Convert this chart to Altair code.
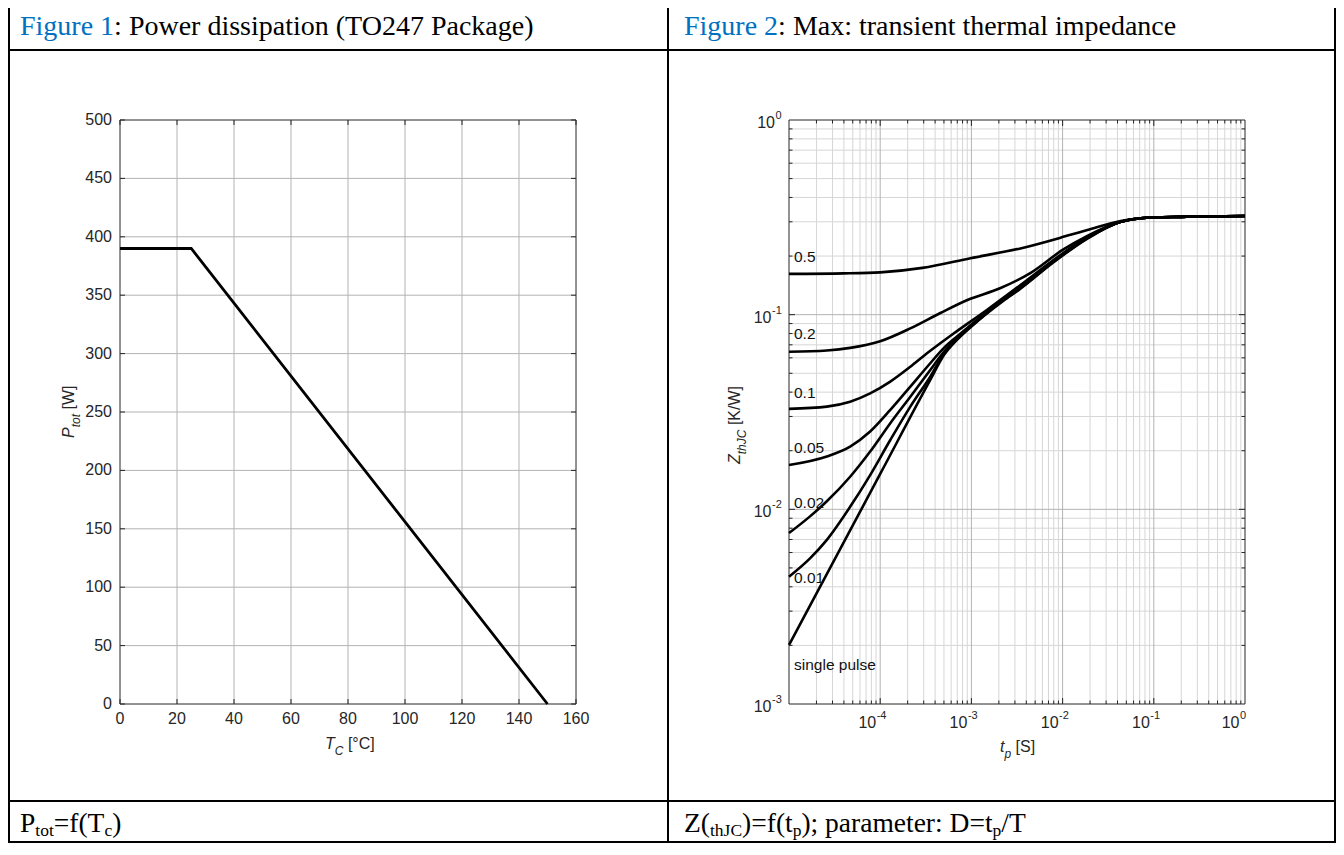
import altair as alt
import pandas as pd

# ---------------- Figure 1 data ----------------
TC = [0, 25, 150]
PTOT = [390, 390, 0]
X1_TICKS = [0, 20, 40, 60, 80, 100, 120, 140, 160]
Y1_TICKS = [0, 50, 100, 150, 200, 250, 300, 350, 400, 450, 500]

# ---------------- Figure 2 data ----------------
T_SP = [1e-5, 1e-4, 3.54e-4, 5e-4, 7e-4, 1e-3, 2.25e-3, 3.45e-3, 7.96e-3, 1.87e-2, 4.34e-2, 7.2e-2, 2e-1, 1.0]
Z_SP = [0.00201, 0.0152, 0.0462, 0.0620, 0.0745, 0.0870, 0.118, 0.136, 0.186, 0.246, 0.300, 0.313, 0.318, 0.321]
T_D001 = [1e-5, 1.7e-5, 2.6e-5, 4.68e-5, 7.76e-5, 1.29e-4, 2.14e-4, 3.54e-4, 5e-4, 7e-4, 1e-3,
          2.25e-3, 3.45e-3, 7.96e-3, 1.87e-2, 4.34e-2, 7.2e-2, 2e-1, 1.0]
Z_D001 = [0.00451, 0.0056, 0.00697, 0.0103, 0.0150, 0.0227, 0.0337, 0.0480, 0.0630, 0.0752, 0.0875,
          0.119, 0.137, 0.187, 0.247, 0.300, 0.313, 0.318, 0.321]
T_D002 = [1e-5, 1.7e-5, 2.6e-5, 4.68e-5, 7.76e-5, 1.29e-4, 2.14e-4, 3.54e-4, 5e-4, 7e-4, 1e-3,
          2.25e-3, 3.45e-3, 7.96e-3, 1.87e-2, 4.34e-2, 7.2e-2, 2e-1, 1.0]
Z_D002 = [0.00755, 0.0092, 0.0110, 0.0147, 0.0198, 0.0277, 0.0379, 0.0520, 0.0645, 0.0760, 0.0880,
          0.120, 0.138, 0.188, 0.248, 0.300, 0.313, 0.318, 0.321]
T_D005 = [1e-5, 2.6e-5, 4.68e-5, 7.76e-5, 1.29e-4, 2.14e-4, 3.54e-4, 5e-4, 7e-4, 1e-3,
          2.25e-3, 3.45e-3, 7.96e-3, 1.87e-2, 4.34e-2, 7.2e-2, 2e-1, 1.0]
Z_D005 = [0.0169, 0.0187, 0.0210, 0.0251, 0.0324, 0.0427, 0.0563, 0.0675, 0.0775, 0.0890,
          0.121, 0.139, 0.189, 0.249, 0.300, 0.313, 0.318, 0.321]
T_D01 = [1e-5, 2.6e-5, 4.68e-5, 7.76e-5, 1.29e-4, 2.14e-4, 3.26e-4, 6.38e-4, 1.49e-3,
         3.45e-3, 7.96e-3, 1.87e-2, 4.34e-2, 7.2e-2, 2e-1, 1.0]
Z_D01 = [0.0328, 0.0337, 0.0357, 0.0394, 0.0453, 0.0540, 0.0633, 0.0800, 0.106,
         0.142, 0.191, 0.250, 0.300, 0.313, 0.318, 0.321]
T_D02 = [1e-5, 2.6e-5, 4.68e-5, 1e-4, 2.14e-4, 4.57e-4, 9.04e-4, 2.09e-3, 4.47e-3, 1e-2,
         1.87e-2, 4.34e-2, 7.2e-2, 2e-1, 1.0]
Z_D02 = [0.0645, 0.0655, 0.0675, 0.0730, 0.0850, 0.102, 0.119, 0.137, 0.164, 0.215,
         0.254, 0.300, 0.313, 0.318, 0.321]
T_D05 = [1e-5, 4e-5, 1e-4, 2.9e-4, 9.75e-4, 3.45e-3, 1.22e-2, 1.87e-2, 4.34e-2, 7.2e-2, 2e-1, 1.0]
Z_D05 = [0.162, 0.163, 0.165, 0.174, 0.195, 0.219, 0.257, 0.272, 0.303, 0.313, 0.318, 0.321]

CURVE_LABELS = ["0.5", "0.2", "0.1", "0.05", "0.02", "0.01", "single pulse"]
CURVE_LABEL_Z = [0.1986, 0.0793, 0.0395, 0.0206, 0.01074, 0.00442, 0.00159]

X2_MAJOR = [1e-4, 1e-3, 1e-2, 1e-1]
X2_MINOR = [k * 10.0 ** e for e in range(-5, 0) for k in range(2, 10)]
Y2_MAJOR = [1e-2, 1e-1]
Y2_MINOR = [k * 10.0 ** e for e in range(-3, 0) for k in range(2, 10)]
X2_LABEL_V = [1e-4, 1e-3, 1e-2, 1e-1]
X2_LABEL_E = ["-4", "-3", "-2", "-1"]
Y2_LABEL_V = [1e-3, 1e-2, 1e-1]
Y2_LABEL_E = ["-3", "-2", "-1"]

# ---------------- layout helpers ----------------
OFF = 8
W, H = 1328, 835


def px(v):
    return v - OFF


SANS = "Liberation Sans"
SERIF = "Liberation Serif"
AXC = "#262626"
BLUE = "#0070C0"
GRID = "#b3b3b3"
GRID_MINOR = "#d6d6d6"

TIMES = {'F': 556, 'i': 278, 'g': 500, 'u': 500, 'r': 333, 'e': 444, ' ': 250, '1': 500, '2': 500,
         ':': 278, 'P': 556, 'o': 500, 'w': 722, 'd': 500, 's': 389, 'p': 500, 'a': 444, 't': 278,
         'n': 500, '(': 333, 'T': 611, 'O': 722, '4': 500, '7': 500, 'c': 444, 'k': 500, ')': 333,
         'M': 889, 'x': 500, 'h': 500, 'm': 778, 'l': 278, '=': 564, 'f': 333, 'Z': 611, 'J': 389,
         'C': 667, ';': 278, 'D': 722, '/': 278}
ARIAL = {'T': 611, 'C': 722, '[': 278, ']': 278, '°': 400, 'P': 667, 't': 278, 'o': 556,
         'W': 944, 'Z': 611, 'h': 556, 'J': 500, 'K': 667, '/': 278, 'p': 556, 'S': 667, ' ': 278}


def tw(s, size, table):
    return sum(table.get(ch, 556) for ch in s) * size / 1000.0


ONE = alt.Data(values=[{"a": 1}])


def piece(x, y, s, size, font, color, style, angle):
    return alt.Chart(ONE).mark_text(
        align="left", baseline="alphabetic", fontSize=size, font=font,
        color=color, fontStyle=style, angle=angle
    ).encode(x=alt.value(x), y=alt.value(y), text=alt.value(s))


def hcompose(x0, y0, pieces, font, table):
    out, x = [], x0
    for s, size, style, color, shift, gap in pieces:
        x += gap
        out.append(piece(x, y0 + shift, s, size, font, color, style, 0))
        x += tw(s, size, table)
    return out


def vcompose(xb, y0, pieces, font, table):
    out, y = [], y0
    for s, size, style, color, shift, gap in pieces:
        y -= gap
        out.append(piece(xb + shift, y, s, size, font, color, style, 270))
        y -= tw(s, size, table)
    return out


def hline(x1, x2, y, width=2, color="black"):
    return alt.Chart(ONE).mark_rule(color=color, strokeWidth=width).encode(
        x=alt.value(x1), x2=alt.value(x2), y=alt.value(y), y2=alt.value(y))


def vline(x, y1, y2, width=2, color="black"):
    return alt.Chart(ONE).mark_rule(color=color, strokeWidth=width).encode(
        x=alt.value(x), x2=alt.value(x), y=alt.value(y1), y2=alt.value(y2))


def vgrid(vals, xs, ys, y0, y1, color):
    return alt.Chart(pd.DataFrame({"v": vals})).mark_rule(color=color, strokeWidth=1).encode(
        x=alt.X("v:Q", scale=xs, axis=None),
        y=alt.YDatum(y0, scale=ys, axis=None), y2=alt.Y2Datum(y1))


def hgrid(vals, xs, ys, x0, x1, color):
    return alt.Chart(pd.DataFrame({"v": vals})).mark_rule(color=color, strokeWidth=1).encode(
        y=alt.Y("v:Q", scale=ys, axis=None),
        x=alt.XDatum(x0, scale=xs, axis=None), x2=alt.X2Datum(x1))


def xticks(vals, xs, ys, yedge, off):
    return alt.Chart(pd.DataFrame({"v": vals})).mark_rule(color=AXC, strokeWidth=1, y2Offset=off).encode(
        x=alt.X("v:Q", scale=xs, axis=None),
        y=alt.YDatum(yedge, scale=ys, axis=None), y2=alt.Y2Datum(yedge))


def yticks(vals, xs, ys, xedge, off):
    return alt.Chart(pd.DataFrame({"v": vals})).mark_rule(color=AXC, strokeWidth=1, x2Offset=off).encode(
        y=alt.Y("v:Q", scale=ys, axis=None),
        x=alt.XDatum(xedge, scale=xs, axis=None), x2=alt.X2Datum(xedge))


def box(xs, ys, xd, yd):
    return alt.Chart(ONE).mark_rect(filled=False, stroke=AXC, strokeWidth=1).encode(
        x=alt.XDatum(xd[0], scale=xs, axis=None), x2=alt.X2Datum(xd[1]),
        y=alt.YDatum(yd[0], scale=ys, axis=None), y2=alt.Y2Datum(yd[1]))


# ---------------- Figure 1 ----------------
X1S = alt.Scale(domain=[0, 160], range=[px(120), px(576)], nice=False, zero=False)
Y1S = alt.Scale(domain=[0, 500], range=[px(704), px(120)], nice=False, zero=False)

df1 = pd.DataFrame({"tc": TC, "p": PTOT})
p1_line = alt.Chart(df1).mark_line(color="black", strokeWidth=2.8).encode(
    x=alt.X("tc:Q", scale=X1S, axis=None), y=alt.Y("p:Q", scale=Y1S, axis=None))

p1_xlab = alt.Chart(pd.DataFrame({"v": X1_TICKS})).mark_text(
    baseline="middle", dy=15, fontSize=16, font=SANS, color=AXC).encode(
    x=alt.X("v:Q", scale=X1S, axis=None), y=alt.YDatum(0, scale=Y1S, axis=None),
    text=alt.Text("v:Q", format="d"))
p1_ylab = alt.Chart(pd.DataFrame({"v": Y1_TICKS})).mark_text(
    baseline="middle", align="right", dx=-8, fontSize=16, font=SANS, color=AXC).encode(
    y=alt.Y("v:Q", scale=Y1S, axis=None), x=alt.XDatum(0, scale=X1S, axis=None),
    text=alt.Text("v:Q", format="d"))

plot1 = alt.layer(
    vgrid(X1_TICKS[1:-1], X1S, Y1S, 0, 500, GRID),
    hgrid(Y1_TICKS[1:-1], X1S, Y1S, 0, 160, GRID),
    xticks(X1_TICKS, X1S, Y1S, 0, -5),
    xticks(X1_TICKS, X1S, Y1S, 500, 5),
    yticks(Y1_TICKS, X1S, Y1S, 0, 5),
    yticks(Y1_TICKS, X1S, Y1S, 160, -5),
    box(X1S, Y1S, (0, 160), (0, 500)),
    p1_line, p1_xlab, p1_ylab,
)

# ---------------- Figure 2 ----------------
X2S = alt.Scale(type="log", domain=[1e-5, 1], range=[px(789), px(1245)], nice=False)
Y2S = alt.Scale(type="log", domain=[1e-3, 1], range=[px(704), px(120)], nice=False)

series = [("single pulse", T_SP, Z_SP), ("0.01", T_D001, Z_D001), ("0.02", T_D002, Z_D002),
          ("0.05", T_D005, Z_D005), ("0.1", T_D01, Z_D01), ("0.2", T_D02, Z_D02),
          ("0.5", T_D05, Z_D05)]
rows = []
for name, ts, zs in series:
    for t, z in zip(ts, zs):
        rows.append({"D": name, "t": t, "z": z})
df2 = pd.DataFrame(rows)

p2_lines = alt.Chart(df2).mark_line(color="black", strokeWidth=2.6, interpolate="monotone").encode(
    x=alt.X("t:Q", scale=X2S, axis=None), y=alt.Y("z:Q", scale=Y2S, axis=None),
    detail="D:N")

p2_curve_lab = alt.Chart(pd.DataFrame({"lab": CURVE_LABELS, "z": CURVE_LABEL_Z})).mark_text(
    align="left", baseline="middle", dx=5, fontSize=15.5, font=SANS, color="#111111").encode(
    x=alt.XDatum(1e-5, scale=X2S, axis=None), y=alt.Y("z:Q", scale=Y2S, axis=None),
    text="lab:N")

dfx = pd.DataFrame({"v": X2_LABEL_V, "e": X2_LABEL_E})
dfy = pd.DataFrame({"v": Y2_LABEL_V, "e": Y2_LABEL_E})
p2_x10 = alt.Chart(dfx).mark_text(align="right", baseline="middle", dx=-4, dy=19, fontSize=16,
                                  font=SANS, color=AXC).encode(
    x=alt.X("v:Q", scale=X2S, axis=None), y=alt.YDatum(1e-3, scale=Y2S, axis=None),
    text=alt.value("10"))
p2_xexp = alt.Chart(dfx).mark_text(align="left", baseline="middle", dx=-3.5, dy=12, fontSize=11,
                                   font=SANS, color=AXC).encode(
    x=alt.X("v:Q", scale=X2S, axis=None), y=alt.YDatum(1e-3, scale=Y2S, axis=None),
    text="e:N")
p2_x10_0 = alt.Chart(ONE).mark_text(align="right", baseline="middle", dx=-5.5, dy=19, fontSize=16,
                                    font=SANS, color=AXC).encode(
    x=alt.XDatum(1, scale=X2S, axis=None), y=alt.YDatum(1e-3, scale=Y2S, axis=None),
    text=alt.value("10"))
p2_xexp_0 = alt.Chart(ONE).mark_text(align="left", baseline="middle", dx=-5, dy=12, fontSize=11,
                                     font=SANS, color=AXC).encode(
    x=alt.XDatum(1, scale=X2S, axis=None), y=alt.YDatum(1e-3, scale=Y2S, axis=None),
    text=alt.value("0"))
p2_y10 = alt.Chart(dfy).mark_text(align="right", baseline="middle", dx=-17.5, dy=3, fontSize=16,
                                  font=SANS, color=AXC).encode(
    y=alt.Y("v:Q", scale=Y2S, axis=None), x=alt.XDatum(1e-5, scale=X2S, axis=None),
    text=alt.value("10"))
p2_yexp = alt.Chart(dfy).mark_text(align="left", baseline="middle", dx=-17, dy=-4, fontSize=11,
                                   font=SANS, color=AXC).encode(
    y=alt.Y("v:Q", scale=Y2S, axis=None), x=alt.XDatum(1e-5, scale=X2S, axis=None),
    text="e:N")
p2_y10_0 = alt.Chart(ONE).mark_text(align="right", baseline="middle", dx=-14, dy=3, fontSize=16,
                                    font=SANS, color=AXC).encode(
    y=alt.YDatum(1, scale=Y2S, axis=None), x=alt.XDatum(1e-5, scale=X2S, axis=None),
    text=alt.value("10"))
p2_yexp_0 = alt.Chart(ONE).mark_text(align="left", baseline="middle", dx=-13.5, dy=-4, fontSize=11,
                                     font=SANS, color=AXC).encode(
    y=alt.YDatum(1, scale=Y2S, axis=None), x=alt.XDatum(1e-5, scale=X2S, axis=None),
    text=alt.value("0"))

plot2 = alt.layer(
    vgrid(X2_MINOR, X2S, Y2S, 1e-3, 1, GRID_MINOR),
    hgrid(Y2_MINOR, X2S, Y2S, 1e-5, 1, GRID_MINOR),
    vgrid(X2_MAJOR, X2S, Y2S, 1e-3, 1, GRID),
    hgrid(Y2_MAJOR, X2S, Y2S, 1e-5, 1, GRID),
    xticks(X2_MINOR, X2S, Y2S, 1e-3, -3.5),
    xticks(X2_MINOR, X2S, Y2S, 1, 3.5),
    xticks(X2_MAJOR, X2S, Y2S, 1e-3, -6),
    xticks(X2_MAJOR, X2S, Y2S, 1, 6),
    yticks(Y2_MINOR, X2S, Y2S, 1e-5, 3.5),
    yticks(Y2_MINOR, X2S, Y2S, 1, -3.5),
    yticks(Y2_MAJOR, X2S, Y2S, 1e-5, 6),
    yticks(Y2_MAJOR, X2S, Y2S, 1, -6),
    box(X2S, Y2S, (1e-5, 1), (1e-3, 1)),
    p2_lines, p2_curve_lab,
    p2_x10, p2_xexp, p2_x10_0, p2_xexp_0,
    p2_y10, p2_yexp, p2_y10_0, p2_yexp_0,
)

# ---------------- table frame and texts ----------------
RIGHT = W - 1
BOTTOM = H - 1
deco = []
deco += [vline(1, 0, BOTTOM), vline(px(668), 0, BOTTOM), vline(RIGHT, 0, BOTTOM),
         hline(0, W, px(50)), hline(0, W, px(801)), hline(0, W, BOTTOM)]

HF = 28
HB = px(35)
deco += hcompose(px(20), HB, [("Figure 1", HF, "normal", BLUE, 0, 0),
                              (": Power dissipation (TO247 Package)", HF, "normal", "black", 0, 0)],
                 SERIF, TIMES)
deco += hcompose(px(684), HB, [("Figure 2", HF, "normal", BLUE, 0, 0),
                               (": Max: transient thermal impedance", HF, "normal", "black", 0, 0)],
                 SERIF, TIMES)
FF, FS = 27.5, 17.5
FB = px(832)
deco += hcompose(px(20), FB, [("P", FF, "normal", "black", 0, 0),
                              ("tot", FS, "normal", "black", 3.5, 0),
                              ("=f(T", FF, "normal", "black", 0, 0),
                              ("c", FS, "normal", "black", 3.5, 0),
                              (")", FF, "normal", "black", 0, 0)], SERIF, TIMES)
deco += hcompose(px(684), FB, [("Z(", FF, "normal", "black", 0, 0),
                               ("thJC", FS, "normal", "black", 3.5, 0),
                               (")=f(t", FF, "normal", "black", 0, 0),
                               ("p", FS, "normal", "black", 3.5, 0),
                               ("); parameter: D=t", FF, "normal", "black", 0, 0),
                               ("p", FS, "normal", "black", 3.5, 0),
                               ("/T", FF, "normal", "black", 0, 0)], SERIF, TIMES)

# axis titles
deco += hcompose(px(325), px(748.5), [("T", 16, "italic", AXC, 0, 0),
                                      ("C", 12, "italic", AXC, 6, 0),
                                      ("[°C]", 16, "normal", AXC, 0, 4.45)], SANS, ARIAL)
deco += hcompose(px(1000), px(751.5), [("t", 16, "italic", AXC, 0, 0),
                                       ("p", 12, "italic", AXC, 6, 0),
                                       ("[S]", 16, "normal", AXC, 0, 4.45)], SANS, ARIAL)
deco += vcompose(px(73.5), px(438), [("P", 16, "italic", AXC, 0, 0),
                                     ("tot", 12, "italic", AXC, 6, 0),
                                     ("[W]", 16, "normal", AXC, 0, 4.45)], SANS, ARIAL)
deco += vcompose(px(739.5), px(464), [("Z", 16, "italic", AXC, 0, 0),
                                      ("thJC", 12, "italic", AXC, 6, 0),
                                      ("[K/W]", 16, "normal", AXC, 0, 4.45)], SANS, ARIAL)

chart = alt.layer(plot1, plot2, *deco).resolve_scale(
    x="independent", y="independent"
).properties(
    width=W, height=H, padding=0, autosize=alt.AutoSizeParams(type="none"),
    background="white"
).configure_view(stroke=None)

chart.save("out.html", embed_options={"renderer": "svg", "actions": False})
